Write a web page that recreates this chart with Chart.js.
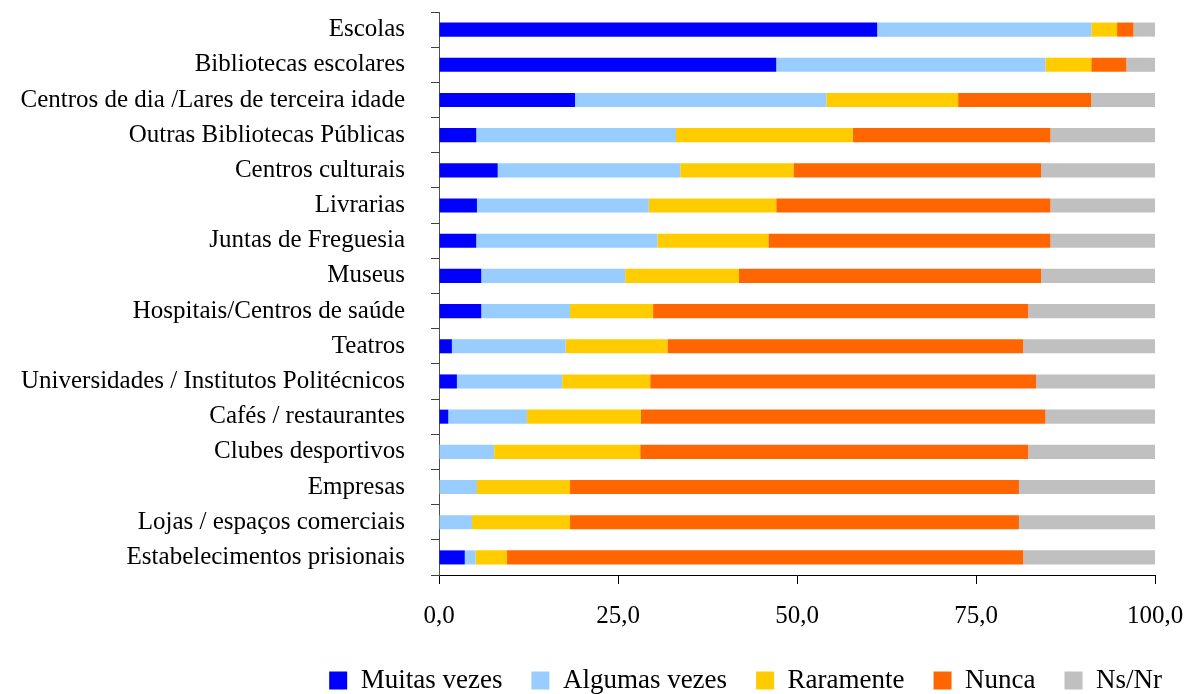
<!DOCTYPE html>
<html>
<head>
<meta charset="utf-8">
<script src="https://cdn.jsdelivr.net/npm/chart.js@4/dist/chart.umd.min.js"></script>
<style>
  html, body { margin: 0; padding: 0; background: #fff; }
  #wrap { width: 1188px; height: 694px; }
</style>
</head>
<body>
<div id="wrap"><canvas id="chart" width="1188" height="694"></canvas></div>
<script>
// categorias (de cima para baixo)
const categories = [
  'Escolas',
  'Bibliotecas escolares',
  'Centros de dia /Lares de terceira idade',
  'Outras Bibliotecas Públicas',
  'Centros culturais',
  'Livrarias',
  'Juntas de Freguesia',
  'Museus',
  'Hospitais/Centros de saúde',
  'Teatros',
  'Universidades / Institutos Politécnicos',
  'Cafés / restaurantes',
  'Clubes desportivos',
  'Empresas',
  'Lojas / espaços comerciais',
  'Estabelecimentos prisionais'
];

// percentagens por série
const muitasVezes   = [61.2, 47.1, 19.0,  5.2,  8.2,  5.3,  5.2,  5.9,  5.9,  1.8,  2.5,  1.3,  0.0,  0.0,  0.0,  3.6];
const algumasVezes  = [29.9, 37.6, 35.1, 27.9, 25.5, 24.0, 25.3, 20.1, 12.4, 15.9, 14.7, 11.0,  7.7,  5.3,  4.6,  1.5];
const raramente     = [ 3.6,  6.4, 18.4, 24.7, 15.8, 17.8, 15.5, 15.9, 11.6, 14.2, 12.3, 15.9, 20.4, 13.0, 13.7,  4.4];
const nunca         = [ 2.3,  4.9, 18.6, 27.6, 34.6, 38.3, 39.4, 42.2, 52.4, 49.7, 53.9, 56.5, 54.2, 62.7, 62.7, 72.1];
const nsNr          = [ 3.0,  4.0,  8.9, 14.6, 15.9, 14.6, 14.6, 15.9, 17.7, 18.4, 16.6, 15.3, 17.7, 19.0, 19.0, 18.4];

const xTicks = [0, 25, 50, 75, 100];

const serif = "'Liberation Serif', 'Times New Roman', serif";

// altura fixa da legenda e ligeiro desvio para a direita
const legendSize = {
  id: 'legendSize',
  beforeInit(chart) {
    const fit = chart.legend.fit;
    chart.legend.fit = function () {
      fit.bind(chart.legend)();
      this.height = 56;
    };
  },
  afterLayout(chart) {
    chart.legend.left += 36;
    chart.legend.right += 36;
  }
};

new Chart(document.getElementById('chart'), {
  type: 'bar',
  data: {
    labels: categories,
    datasets: [
      { label: 'Muitas vezes',  data: muitasVezes,  backgroundColor: '#0000FF' },
      { label: 'Algumas vezes', data: algumasVezes, backgroundColor: '#99CCFF' },
      { label: 'Raramente',     data: raramente,    backgroundColor: '#FFCC00' },
      { label: 'Nunca',         data: nunca,        backgroundColor: '#FF6600' },
      { label: 'Ns/Nr',         data: nsNr,         backgroundColor: '#C0C0C0' }
    ]
  },
  options: {
    indexAxis: 'y',
    responsive: false,
    animation: false,
    maintainAspectRatio: false,
    datasets: { bar: { categoryPercentage: 0.8, barPercentage: 0.5 } },
    layout: { padding: { top: 12, right: 33, left: 0, bottom: 0 } },
    scales: {
      x: {
        stacked: true,
        min: 0,
        max: 100,
        afterBuildTicks(scale) {
          scale.ticks = xTicks.map(v => ({ value: v }));
        },
        afterFit(scale) {
          scale.height = 63;
          scale.paddingLeft = 0;
          scale.paddingRight = 0;
        },
        grid: { drawOnChartArea: false, drawTicks: true, tickLength: 9, color: '#000' },
        border: { display: true, color: '#000' },
        ticks: {
          color: '#000',
          padding: 17,
          maxRotation: 0,
          font: { family: serif, size: 25 },
          callback: v => v.toFixed(1).replace('.', ',')
        }
      },
      y: {
        stacked: true,
        afterFit(scale) {
          scale.width = 439;
          scale.paddingTop = 0;
          scale.paddingBottom = 0;
        },
        grid: { drawOnChartArea: false, drawTicks: true, tickLength: 8, color: '#404040', offset: true },
        border: { display: true, color: '#505050' },
        ticks: {
          color: '#000',
          padding: 26,
          autoSkip: false,
          font: { family: serif, size: 25 }
        }
      }
    },
    plugins: {
      tooltip: { enabled: false },
      legend: {
        position: 'bottom',
        align: 'end',
        labels: {
          color: '#000',
          boxWidth: 18,
          boxHeight: 18,
          padding: 29,
          font: { family: serif, size: 27 }
        }
      }
    }
  },
  plugins: [legendSize]
});
</script>
</body>
</html>
